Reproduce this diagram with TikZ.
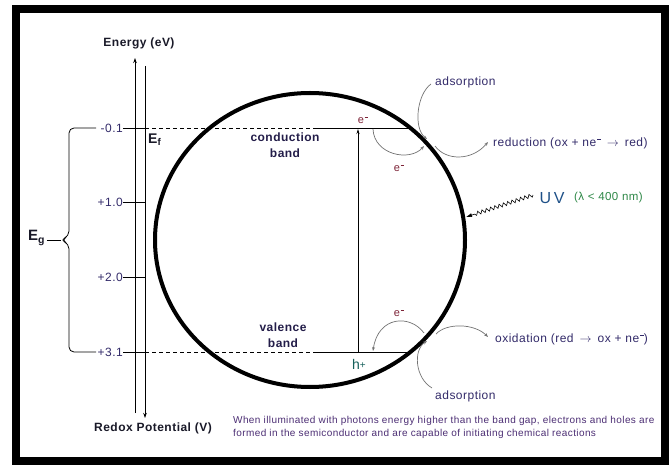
\documentclass[tikz,border=0pt]{standalone}
\usepackage{fontspec}
\setmainfont{Liberation Sans}[LetterSpace=4]
\usetikzlibrary{arrows.meta,positioning,shapes.geometric,decorations.pathmorphing}
\definecolor{navy}{RGB}{50,42,105}
\definecolor{darkink}{RGB}{25,25,40}
\definecolor{maroon}{RGB}{125,35,55}
\definecolor{holeteal}{RGB}{20,95,90}
\definecolor{uvblue}{RGB}{30,80,135}
\definecolor{uvgreen}{RGB}{45,135,70}
\definecolor{capviolet}{RGB}{75,45,115}
\newcommand{\eneg}{e\kern0.06em\rule[0.5em]{0.32em}{0.11em}}
\newcommand{\toarrow}{\hspace{0.5em}$\rightarrow$\hspace{0.5em}}

\begin{document}
\begin{tikzpicture}[
  x=1pt, y=-1pt,
  >=Stealth,
  txt/.style={font=\fontsize{12}{14}\selectfont, text=navy, inner sep=0pt},
  btxt/.style={font=\fontsize{12}{16}\selectfont\bfseries, text=darkink, inner sep=0pt, align=center},
  ticklbl/.style={font=\fontsize{12}{14}\selectfont, text=navy, anchor=east, inner sep=0pt},
  elec/.style={font=\fontsize{11}{12}\selectfont, text=maroon, inner sep=0pt},
  axis/.style={line width=0.8pt, -{Stealth[length=5pt,width=3.5pt]}},
  level/.style={line width=0.8pt},
  curve/.style={draw=black!55, line width=0.7pt, -{Stealth[length=4pt,width=3pt]}}
]
\useasboundingbox (0,0) rectangle (672,470);
% frame
\draw[line width=8pt] (16,9) rectangle (665,461);

% energy / redox axes
\coordinate (upbot) at (135,413);
\coordinate (uptop) at (135,58);
\coordinate (dntop) at (145,66);
\coordinate (dnbot) at (145,418);
\draw[axis] (upbot) -- (uptop);
\draw[axis] (dntop) -- (dnbot);
\node[btxt] (energy) at (139,43) {Energy (eV)};
\node[btxt] (redox) at (153,428) {Redox Potential (V)};

% scale ticks
\foreach \val/\y in {-0.1/128, +1.0/202, +2.0/277, +3.1/352}{
  \node[ticklbl] (tick\y) at (123,\y) {\val};
  \coordinate (axis\y) at (145,\y);
  \draw[level] (tick\y.east) -- (axis\y);
}

% band edges
\coordinate (cbA) at (145,128);
\coordinate (cbB) at (315,128);
\coordinate (cbC) at (410,128);
\coordinate (vbA) at (145,352);
\coordinate (vbB) at (315,352);
\coordinate (vbC) at (410,352);
\draw[level, dash pattern=on 4pt off 3pt] (cbA) -- (cbB);
\draw[level] (cbB) -- (cbC);
\draw[level, dash pattern=on 4pt off 3pt] (vbA) -- (vbB);
\draw[level] (vbB) -- (vbC);

\node[font=\fontsize{14}{16}\selectfont\bfseries, text=darkink, inner sep=0pt, anchor=west] (ef) at (148,140) {E\textsubscript{f}};

% band gap brace
\coordinate (bracetip) at (61,240);
\draw[line width=0.8pt, rounded corners=5pt] (96,128) -- (69,128) -- (69,236) -- (bracetip) -- (69,244) -- (69,352) -- (96,352);
\node[font=\fontsize{15}{17}\selectfont\bfseries, text=darkink, inner sep=0pt, anchor=west] (eg) at (28,238) {E\textsubscript{g}};
\draw[line width=0.8pt] (eg.east) ++(1.5,2) -- (bracetip);

% semiconductor particle
\node[ellipse, draw, line width=4pt, minimum width=310pt, minimum height=294pt, inner sep=0pt] (particle) at (310,240) {};

\node[btxt, text=navy!70!black] (cb) at (285,145) {conduction\\band};
\node[btxt, text=navy!70!black] (vb) at (283,335) {valence\\band};

% excitation
\coordinate (vbx) at (358,352);
\coordinate (cbx) at (358,129);
\draw[level, -{Stealth[length=5pt,width=3pt]}] (vbx) -- (cbx);

\node[elec] (etop) at (363,120) {\eneg};
\node[elec] (emid) at (399,168) {\eneg};
\node[elec] (elow) at (399,313) {\eneg};
\node[inner sep=0pt, text=holeteal, font=\fontsize{14}{16}\selectfont] (hole) at (359,364) {h\raisebox{0.05em}{\fontsize{10}{12}\selectfont+}};

% surface transfer
\coordinate (cbout) at (373,129);
\coordinate (surfcb) at (424,146);
\draw[curve] (cbout) .. controls (374,155) and (410,162) .. (surfcb);
\coordinate (adsA) at (431,84);
\coordinate (surfadsA) at (427,139);
\draw[curve] (adsA) .. controls (417,94) and (413,128) .. (surfadsA);
\coordinate (redA) at (435,146);
\coordinate (redB) at (488,142);
\draw[curve] (redA) .. controls (446,161) and (472,161) .. (redB);

\coordinate (surfvb) at (424,333);
\coordinate (vbin) at (373,351);
\draw[curve] (surfvb) .. controls (410,314) and (378,316) .. (vbin);
\coordinate (oxA) at (436,334);
\coordinate (oxB) at (488,337);
\draw[curve] (oxA) .. controls (446,323) and (474,323) .. (oxB);
\coordinate (adsB) at (432,388);
\coordinate (surfadsB) at (427,341);
\draw[curve] (adsB) .. controls (415,378) and (413,350) .. (surfadsB);

\node[txt, anchor=west] (adstop) at (435,82) {adsorption};
\node[txt, anchor=west] (adsbot) at (435,396) {adsorption};
\node[txt, anchor=west] (reduct) at (493,143) {reduction (ox + n\eneg\toarrow red)};
\node[txt, anchor=west] (oxid) at (495,339) {oxidation (red\toarrow ox + n\eneg)};

% UV light
\node[inner sep=0pt, text=uvblue, font=\fontsize{16}{18}\selectfont] (uv) at (552,198) {U\,V};
\node[inner sep=0pt, text=uvgreen, font=\fontsize{11.5}{14}\selectfont, anchor=west] (lambda) at (574,198) {(λ < 400 nm)};
\coordinate (uvstart) at (533,195);
\coordinate (uvhit) at (466,217);
\draw[line width=0.6pt, -{Latex[length=6pt,width=4pt]}, decorate,
  decoration={snake, amplitude=1.8pt, segment length=4.5pt, post length=7pt}] (uvstart) -- (uvhit);

\node[inner sep=0pt, anchor=north west, align=left, text=capviolet, font=\fontsize{10}{13}\selectfont] (caption) at (233,416)
  {When illuminated with photons energy higher than the band gap, electrons and holes are\\formed in the semiconductor and are capable of initiating chemical reactions};
\end{tikzpicture}
\end{document}
